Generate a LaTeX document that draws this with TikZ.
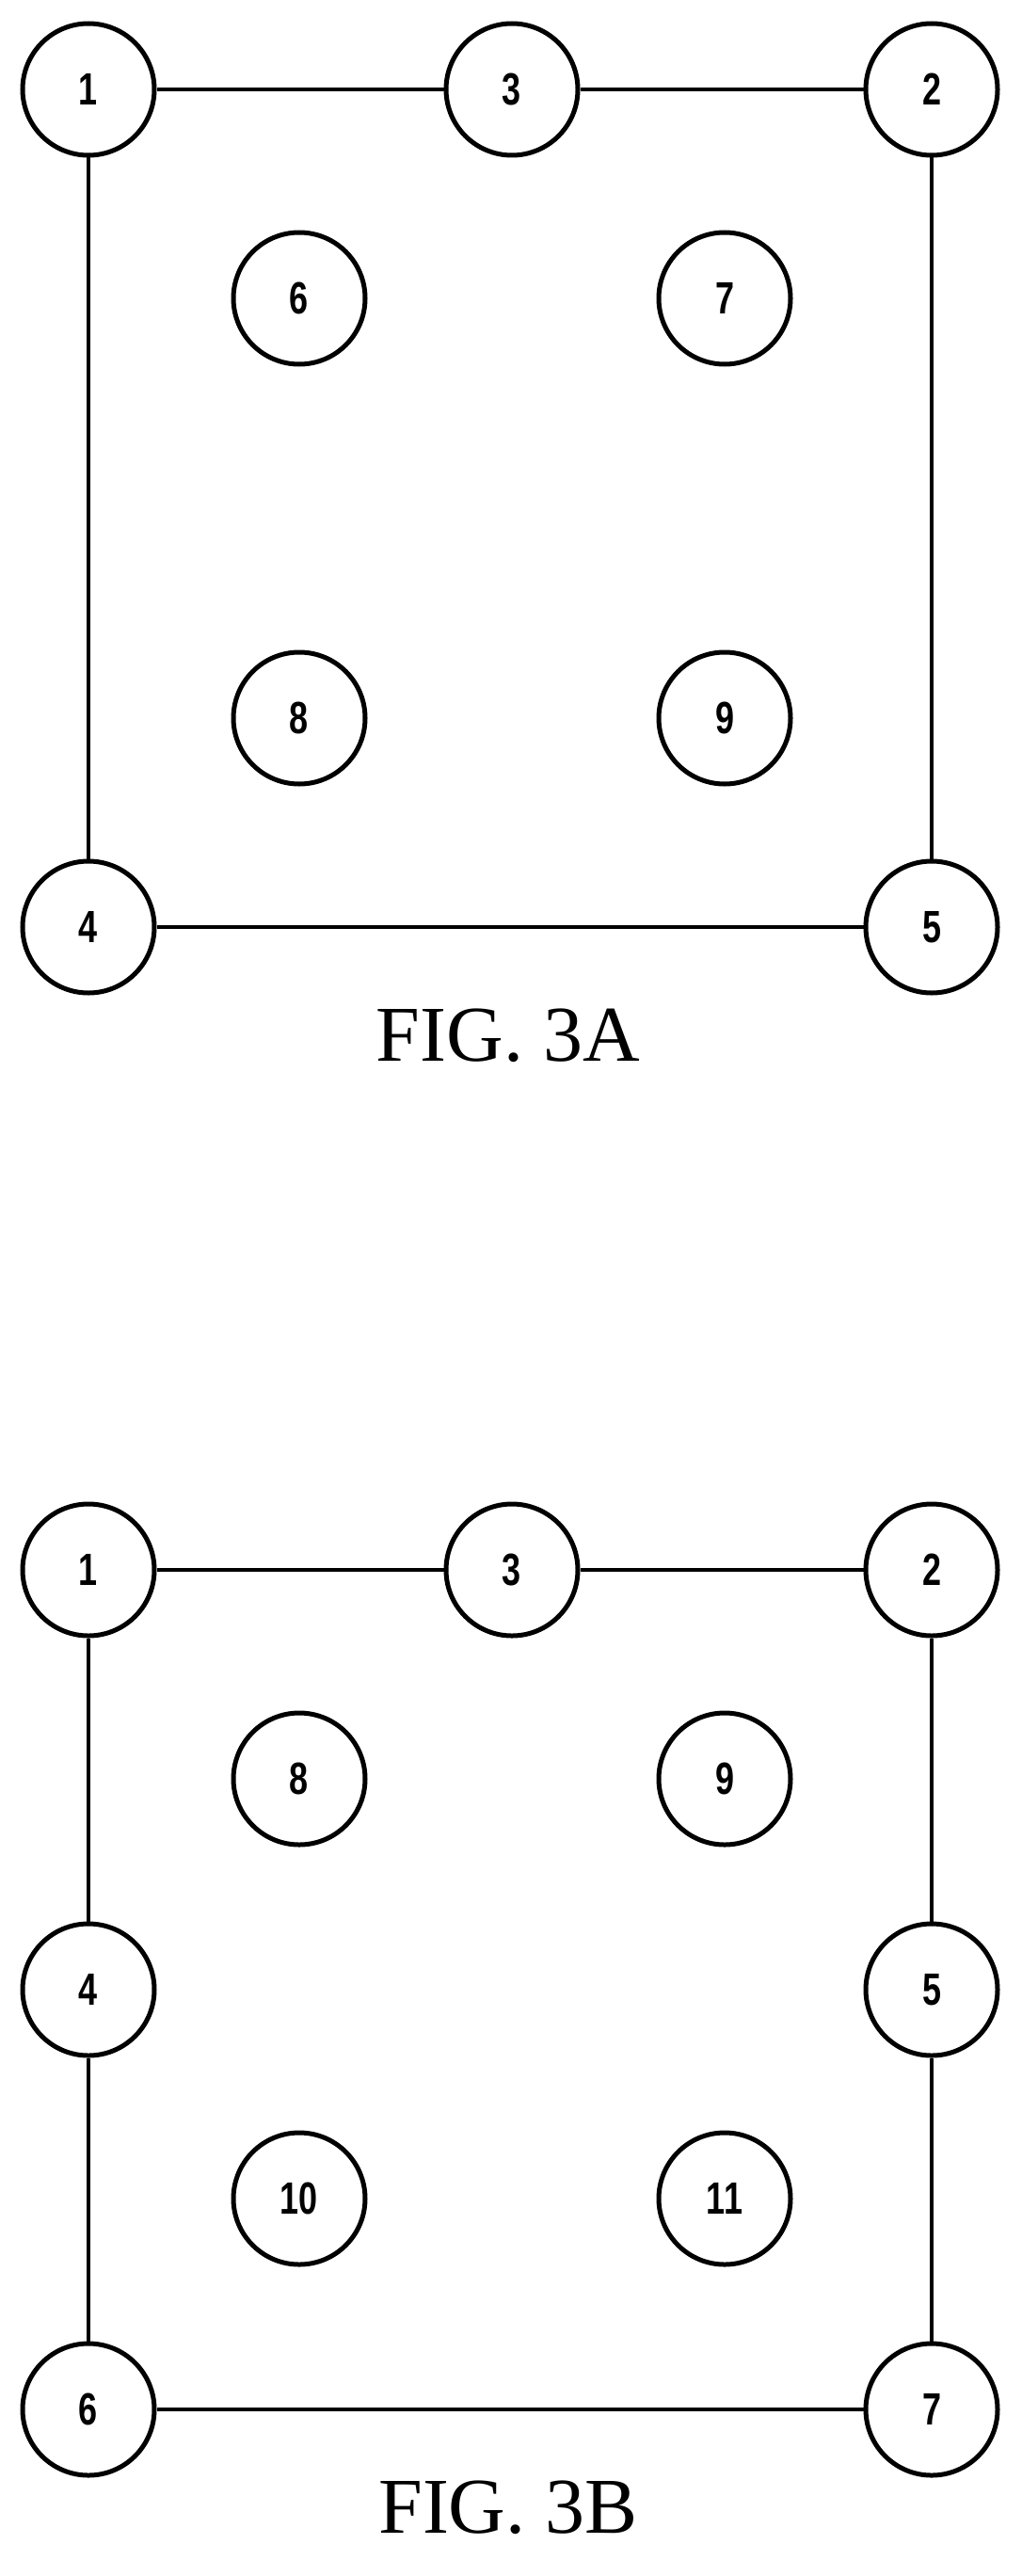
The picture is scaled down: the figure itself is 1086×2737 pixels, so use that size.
\documentclass[tikz,border=0pt]{standalone}
\usepackage{fontspec}
\setmainfont{Liberation Serif}
\newfontfamily\numf{Liberation Sans}
\begin{document}
\begin{tikzpicture}[x=1pt,y=-1pt,
 nd/.style={circle,draw,line width=5pt,minimum size=140pt,inner sep=0pt,font=\numf\bfseries\fontsize{48}{48}\selectfont},
 ln/.style={line width=4pt},
 figcap/.style={font=\fontsize{84}{84}\selectfont}]
\useasboundingbox (0,0) rectangle (1086,2737);
\node[nd] (a1) at (94,95) {\scalebox{0.75}[1]{1}};
\node[nd] (a3) at (544,95) {\scalebox{0.75}[1]{3}};
\node[nd] (a2) at (990,95) {\scalebox{0.75}[1]{2}};
\node[nd] (a6) at (318,317) {\scalebox{0.75}[1]{6}};
\node[nd] (a7) at (770,317) {\scalebox{0.75}[1]{7}};
\node[nd] (a8) at (318,763) {\scalebox{0.75}[1]{8}};
\node[nd] (a9) at (770,763) {\scalebox{0.75}[1]{9}};
\node[nd] (a4) at (94,985) {\scalebox{0.75}[1]{4}};
\node[nd] (a5) at (990,985) {\scalebox{0.75}[1]{5}};
\draw[ln] (a1)--(a3) (a3)--(a2) (a2)--(a5) (a5)--(a4) (a4)--(a1);
\node[figcap] (t1) at (540,1100) {FIG. 3A};
\node[nd] (b1) at (94,1668) {\scalebox{0.75}[1]{1}};
\node[nd] (b3) at (544,1668) {\scalebox{0.75}[1]{3}};
\node[nd] (b2) at (990,1668) {\scalebox{0.75}[1]{2}};
\node[nd] (b8) at (318,1890) {\scalebox{0.75}[1]{8}};
\node[nd] (b9) at (770,1890) {\scalebox{0.75}[1]{9}};
\node[nd] (b4) at (94,2114) {\scalebox{0.75}[1]{4}};
\node[nd] (b5) at (990,2114) {\scalebox{0.75}[1]{5}};
\node[nd] (b10) at (318,2336) {\scalebox{0.75}[1]{10}};
\node[nd] (b11) at (770,2336) {\scalebox{0.75}[1]{11}};
\node[nd] (b6) at (94,2560) {\scalebox{0.75}[1]{6}};
\node[nd] (b7) at (990,2560) {\scalebox{0.75}[1]{7}};
\draw[ln] (b1)--(b3) (b3)--(b2) (b2)--(b5) (b5)--(b7) (b7)--(b6) (b6)--(b4) (b4)--(b1);
\node[figcap] (t2) at (540,2664) {FIG. 3B};
\end{tikzpicture}
\end{document}
